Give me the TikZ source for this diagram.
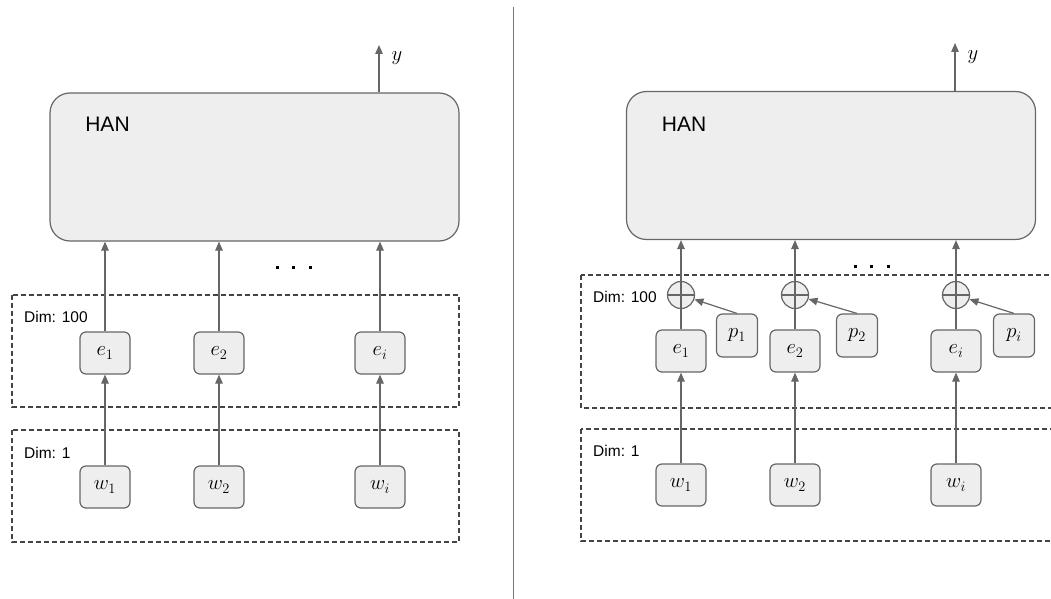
\documentclass[tikz,border=0pt]{standalone}
\usepackage{fontspec}
\setsansfont{Liberation Sans}
\usetikzlibrary{arrows.meta}
\definecolor{edge}{HTML}{666666}
\definecolor{boxfill}{HTML}{EEEEEE}
\definecolor{dashc}{HTML}{444444}
\definecolor{rule}{HTML}{777777}
\tikzset{
  han/.style={draw=edge, fill=boxfill, rounded corners=20pt, line width=1.2pt,
    minimum width=409pt, minimum height=148pt, inner sep=0pt},
  vec/.style={draw=edge, fill=boxfill, rounded corners=6pt, line width=1.2pt,
    minimum width=50pt, minimum height=42pt, inner sep=0pt,
    font=\fontsize{21}{25}\selectfont},
  pvec/.style={vec, minimum width=41pt, minimum height=43pt},
  layer/.style={draw=dashc, dash pattern=on 5pt off 3pt, line width=1.1pt},
  dimlabel/.style={anchor=west, font=\sffamily\fontsize{15.5}{18}\selectfont, inner sep=0pt},
  hantext/.style={font=\sffamily\fontsize{21}{25}\selectfont, inner sep=0pt},
  outlabel/.style={font=\fontsize{21}{25}\selectfont, inner sep=0pt},
  flow/.style={draw=edge, line width=1.2pt, -{Triangle[length=9pt,width=7.5pt]}},
  link/.style={draw=edge, line width=1.2pt},
  plus/.style={circle, draw=edge, fill=boxfill, line width=1.2pt, minimum size=27pt,
    inner sep=0pt, path picture={
      \draw[edge, line width=1.2pt]
        (path picture bounding box.north) -- (path picture bounding box.south)
        (path picture bounding box.west) -- (path picture bounding box.east);}},
  dotmark/.style={fill=black, minimum size=3pt, inner sep=0pt},
}
\begin{document}
\begin{tikzpicture}[x=1pt, y=-1pt]
\path[use as bounding box] (0,0) rectangle (1051,599);
\clip (0,0) rectangle (1051,599);

% ---------- left panel: plain word embeddings ----------
\draw[layer] (12,295) rectangle (459,407);
\draw[layer] (12,430) rectangle (459,542);
\node[dimlabel] (dimL100) at (24,317) {Dim: 100};
\node[dimlabel] (dimL1) at (24,453) {Dim: 1};

\node[han] (hanL) at (254.5,167) {};
\node[hantext] (hanLt) at (107.5,124) {HAN};

\node[vec] (eL1) at (105,353) {$e_1$};
\node[vec] (eL2) at (219,353) {$e_2$};
\node[vec] (eLi) at (380,353) {$e_i$};
\node[vec] (wL1) at (105,487) {$w_1$};
\node[vec] (wL2) at (219,487) {$w_2$};
\node[vec] (wLi) at (380,487) {$w_i$};

\foreach \k in {1,2,i} {
  \draw[flow] (wL\k.north) -- (eL\k.south);
  \draw[flow] (eL\k.north) -- (eL\k.north |- hanL.south);
}

\coordinate (yLtip) at (379,45);
\draw[flow] (yLtip |- hanL.north) -- (yLtip);
\node[outlabel] (yL) at (397,58) {$y$};

\node[dotmark] (dL1) at (277,267) {};
\node[dotmark] (dL2) at (293.5,267) {};
\node[dotmark] (dL3) at (310,267) {};

% ---------- divider ----------
\coordinate (divTop) at (513.5,7);
\coordinate (divBot) at (513.5,599);
\draw[rule, line width=1.2pt] (divTop) -- (divBot);

% ---------- right panel: embeddings plus position vectors ----------
\draw[layer] (581,275) rectangle (1070,408);
\draw[layer] (581,429) rectangle (1070,541);
\node[dimlabel] (dimR100) at (593,297) {Dim: 100};
\node[dimlabel] (dimR1) at (593,451) {Dim: 1};

\node[han] (hanR) at (831,165.5) {};
\node[hantext] (hanRt) at (684,124) {HAN};

\node[vec] (eR1) at (681,351) {$e_1$};
\node[vec] (eR2) at (795,351) {$e_2$};
\node[vec] (eRi) at (956,351) {$e_i$};
\node[vec] (wR1) at (681,485) {$w_1$};
\node[vec] (wR2) at (795,485) {$w_2$};
\node[vec] (wRi) at (956,485) {$w_i$};
\node[pvec] (pR1) at (737,335.5) {$p_1$};
\node[pvec] (pR2) at (857,335.5) {$p_2$};
\node[pvec] (pRi) at (1014,335.5) {$p_i$};
\node[plus] (sR1) at (681,295) {};
\node[plus] (sR2) at (795,295) {};
\node[plus] (sRi) at (956,295) {};

\foreach \k in {1,2,i} {
  \draw[flow] (wR\k.north) -- (eR\k.south);
  \draw[link] (eR\k.north) -- (sR\k.south);
  \draw[flow] (sR\k.north) -- (sR\k.north |- hanR.south);
  \draw[flow] (pR\k.north) -- (sR\k);
}

\coordinate (yRtip) at (955,43);
\draw[flow] (yRtip |- hanR.north) -- (yRtip);
\node[outlabel] (yR) at (973,57) {$y$};

\node[dotmark] (dR1) at (855,266) {};
\node[dotmark] (dR2) at (871.5,266) {};
\node[dotmark] (dR3) at (888,266) {};
\end{tikzpicture}
\end{document}
